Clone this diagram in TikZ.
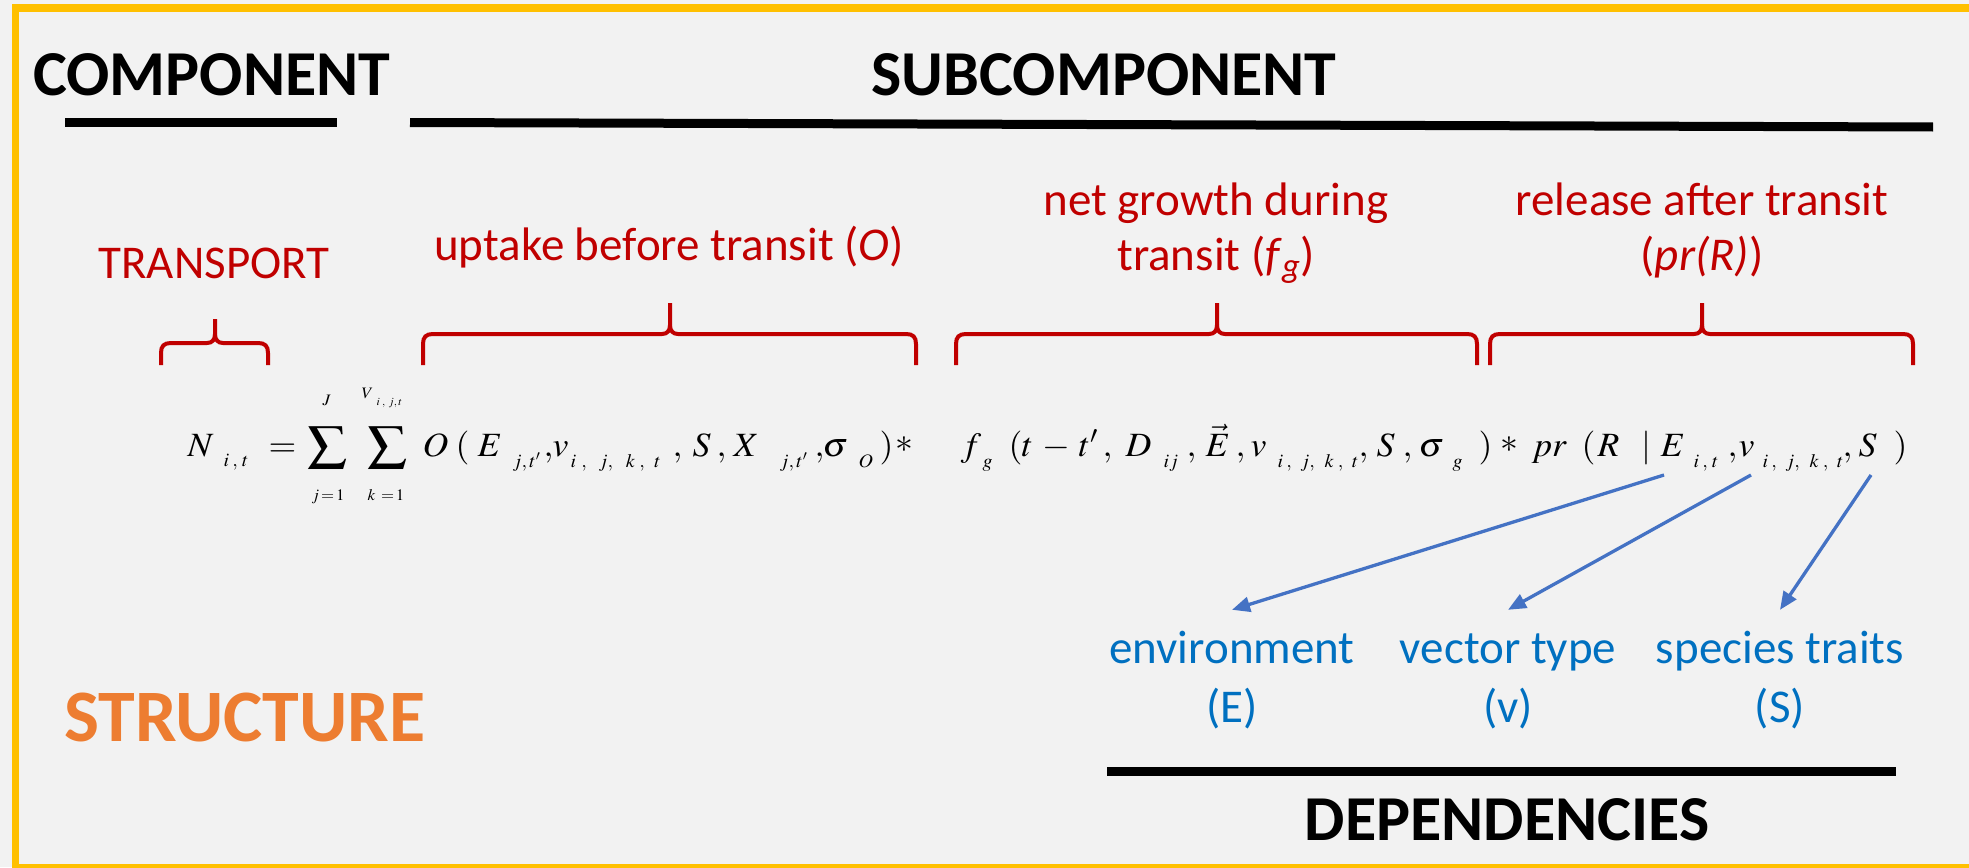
\documentclass[tikz,border=0pt]{standalone}
\usepackage{graphicx}
\usepackage{mathptmx}
\usepackage[no-math]{fontspec}
\setmainfont{Carlito}
\usetikzlibrary{arrows.meta}

\definecolor{bgc}{HTML}{F2F2F2}
\definecolor{framec}{HTML}{FFC000}
\definecolor{redc}{HTML}{C00000}
\definecolor{bluec}{HTML}{0070C0}
\definecolor{arrc}{HTML}{4472C4}
\definecolor{orangec}{HTML}{ED7D31}

% one piece of the (slightly stretched) formula: x offset, vertical shift, size, math content
\newcommand\pcx[5]{\rlap{\hspace*{#1pt}\raisebox{#2pt}{\scalebox{#5}[1]{\fontsize{#3pt}{#3pt}\selectfont$#4$}}}}
\newcommand\pc[4]{\pcx{#1}{#2}{#3}{#4}{1.05}}
% widely spaced index lists
\newcommand\sbO{i\hspace{5pt},\hspace{9pt}j,\hspace{10pt}k\hspace{4pt},\hspace{7pt}t}
\newcommand\sbF{i\hspace{3pt},\hspace{6pt}j,\hspace{7pt}k\hspace{4pt},\hspace{6pt}t}

% curly brace opening downwards: x-left, x-tip, x-right, y-bar, y-tip, y-ends
\newcommand\redbrace[6]{%
  \draw[bracec] (#1,#6) -- (#1,#4+10)
    .. controls (#1,#4+3) and (#1+3,#4) .. (#1+10,#4) -- (#2-8,#4)
    .. controls (#2-3,#4) and (#2,#4-3) .. (#2,#4-9) -- (#2,#5);
  \draw[bracec] (#2,#4-9)
    .. controls (#2,#4-3) and (#2+3,#4) .. (#2+8,#4) -- (#3-10,#4)
    .. controls (#3-3,#4) and (#3,#4+3) .. (#3,#4+10) -- (#3,#6);}

\tikzset{
  redlbl/.style={text=redc, font=\fontsize{47}{57}\selectfont, inner sep=0pt, anchor=base},
  bluelbl/.style={text=bluec, font=\fontsize{47}{57}\selectfont, inner sep=0pt, anchor=base},
  bluetop/.style={bluelbl, text height=33pt, inner ysep=20pt},
  headlbl/.style={font=\fontsize{64}{70}\selectfont\bfseries, inner sep=0pt, anchor=base},
  blackrule/.style={line width=9pt, black},
  bracec/.style={draw=redc, line width=4pt},
  dep/.style={draw=arrc, line width=3.3pt, -{Triangle[length=18pt,width=15pt]}},
}

\begin{document}
\begin{tikzpicture}[x=1pt, y=-1pt]
\fill[bgc] (0,0) rectangle (1969,867);
\useasboundingbox (0,0) rectangle (1969,867);
\clip (0,0) rectangle (1969,867);
\draw[framec, line width=7.5pt] (15.5,8) rectangle (1990,868);

% headings and rules
\node[headlbl, anchor=base west] (component) at (33,95) {COMPONENT};
\node[headlbl] (subcomp) at (1104,95) {SUBCOMPONENT};
\draw[blackrule] (65,122.5) -- (337,122.5);
\draw[blackrule] (410,122.5) -- (1933,127);
\node[headlbl, text=orangec, font=\fontsize{74}{80}\selectfont\bfseries, anchor=base west] (structure) at (64,741) {STRUCTURE};
\draw[blackrule] (1107,771) -- (1896,771);
\node[headlbl] (depend) at (1507,840) {DEPENDENCIES};

% labels of the terms
\node[redlbl] (transport) at (214,278) {TRANSPORT};
\node[redlbl] (uptake) at (669,260) {uptake before transit (\textit{O})};
\node[redlbl] (growtha) at (1216,215) {net growth during};
\node[redlbl] (growthb) at (1216,270) {transit (\textit{f}\textsubscript{\textit{g}})};
\node[redlbl] (releasea) at (1702,215) {release after transit};
\node[redlbl] (releaseb) at (1702,270) {(\textit{pr(R)})};

\redbrace{161}{215}{268}{343}{319}{365}
\redbrace{423}{670}{916}{334}{303}{365}
\redbrace{956}{1217}{1477}{334}{303}{365}
\redbrace{1490}{1702}{1913}{334}{303}{365}

% the model equation
\node[anchor=base west, inner sep=0pt] (eq) at (0,456) {%
\pc{187}{0}{34}{N}\pc{223}{-10}{19}{i\hspace{3pt},\hspace{2pt}t}%
\pc{268}{0}{34}{=}%
\pcx{307}{0}{34}{\displaystyle\sum}{1.15}\pc{322}{51}{16}{J}\pc{311}{-44}{16}{j\!=\!1}%
\pcx{367}{0}{34}{\displaystyle\sum}{1.15}\pc{361}{58}{16}{V}\pc{376}{51}{11}{i\hspace{2pt},\hspace{2pt}j,t}\pc{367}{-44}{16}{k\,=\!1}%
\pc{422}{0}{34}{O}\pc{455}{0}{34}{(}\pc{477}{0}{34}{E}\pc{512}{-11}{19}{j,t'}%
\pc{543}{0}{34}{,}\pc{552}{0}{34}{v}\pc{570}{-11}{19}{\sbO}%
\pc{672}{0}{34}{,}\pc{692}{0}{34}{S}\pc{716}{0}{34}{,}\pc{733}{0}{34}{X}\pc{779}{-11}{19}{j,t'}%
\pc{814}{0}{34}{,}\pc{822}{0}{34}{\sigma}\pc{858}{-11}{19}{O}\pc{879}{0}{34}{)}%
\pc{895}{4}{34}{*}%
\pc{960}{0}{34}{f}\pc{982}{-11}{19}{g}\pc{1008}{0}{34}{(}\pc{1021}{0}{34}{t}\pc{1042}{0}{34}{-}\pc{1078}{0}{34}{t'}%
\pc{1102}{0}{34}{,}\pc{1125}{0}{34}{D}\pc{1163}{-11}{19}{ij}\pc{1186}{0}{34}{,}\pc{1205}{0}{34}{\vec{E}}%
\pc{1235}{0}{34}{,}\pc{1250}{0}{34}{v}\pc{1277}{-11}{19}{\sbF}%
\pc{1358}{0}{34}{,}\pc{1376}{0}{34}{S}\pc{1402}{0}{34}{,}\pc{1418}{0}{34}{\sigma}\pc{1452}{-11}{19}{g}\pc{1478}{0}{34}{)}%
\pc{1500}{4}{34}{*}%
\pc{1531}{0}{34}{pr}\pc{1581}{0}{34}{(}\pc{1597}{0}{34}{R}\pc{1641}{0}{34}{|}\pc{1660}{0}{34}{E}\pc{1693}{-11}{19}{i\hspace{3pt},\hspace{2pt}t}%
\pc{1727}{0}{34}{,}\pc{1738}{0}{34}{v}\pc{1762}{-11}{19}{\sbF}%
\pc{1842}{0}{34}{,}\pc{1858}{0}{34}{S}\pc{1893}{0}{34}{)}};

% dependency labels
\node[bluetop] (env) at (1232,663) {environment};
\node[bluelbl] (envs) at (1232,722) {(E)};
\node[bluetop] (vec) at (1508,663) {vector type};
\node[bluelbl] (vecs) at (1508,722) {(v)};
\node[bluetop] (spec) at (1780,663) {species traits};
\node[bluelbl] (specs) at (1780,722) {(S)};

\coordinate (fromE) at (1664,475);
\coordinate (fromv) at (1751,475);
\coordinate (fromS) at (1871,475);
\draw[dep] (fromE) -- (env.north);
\draw[dep] (fromv) -- (vec.north);
\draw[dep] (fromS) -- (spec.north);
\end{tikzpicture}
\end{document}
